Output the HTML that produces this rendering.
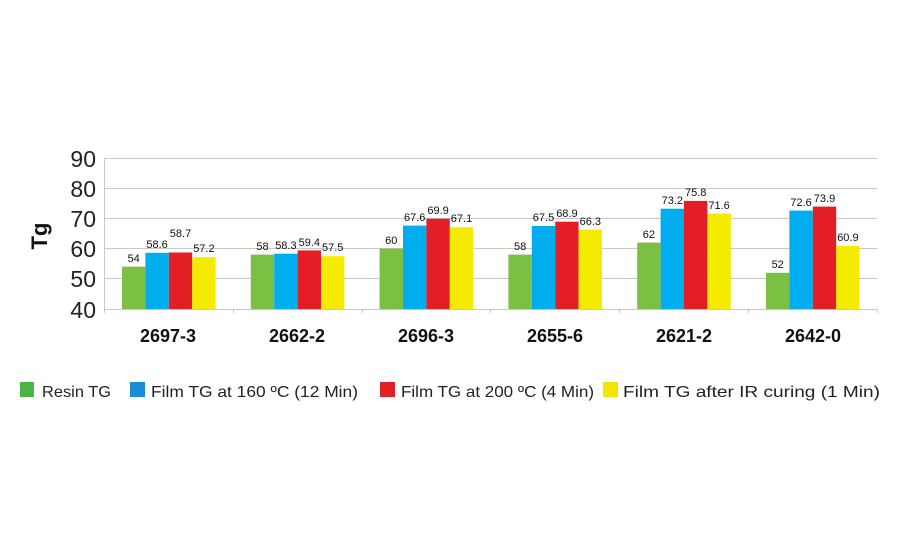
<!DOCTYPE html><html><head><style>body{margin:0;background:#fff}svg{display:block}</style></head><body>
<svg width="900" height="550" xmlns="http://www.w3.org/2000/svg" font-family="Liberation Sans, sans-serif">
<g stroke="#c8c8c8" stroke-width="1">
<line x1="104" y1="158.5" x2="877" y2="158.5"/><line x1="104" y1="188.5" x2="877" y2="188.5"/><line x1="104" y1="218.5" x2="877" y2="218.5"/><line x1="104" y1="248.5" x2="877" y2="248.5"/><line x1="104" y1="278.5" x2="877" y2="278.5"/><line x1="104" y1="309.5" x2="877" y2="309.5"/>
<line x1="104.5" y1="158" x2="104.5" y2="313"/>
<line x1="233.5" y1="309" x2="233.5" y2="313"/><line x1="362.5" y1="309" x2="362.5" y2="313"/><line x1="490.5" y1="309" x2="490.5" y2="313"/><line x1="619.5" y1="309" x2="619.5" y2="313"/><line x1="748.5" y1="309" x2="748.5" y2="313"/><line x1="877.5" y1="309" x2="877.5" y2="313"/>
</g>
<g font-size="23" fill="#222" text-anchor="end">
<text x="96" y="167">90</text><text x="96" y="197">80</text><text x="96" y="227">70</text><text x="96" y="257">60</text><text x="96" y="287">50</text><text x="96" y="318">40</text>
</g>
<text transform="translate(47,236) rotate(-90)" font-size="22" font-weight="bold" text-anchor="middle" fill="#111">Tg</text>
<g>
<rect x="122" y="266.7" width="23.4" height="42.3" fill="#7bbf43"/><rect x="145.4" y="252.8" width="23.4" height="56.2" fill="#00aeef"/><rect x="168.8" y="252.5" width="23.4" height="56.5" fill="#e31e24"/><rect x="192.2" y="257.1" width="23.4" height="51.9" fill="#f5eb00"/>
<rect x="250.8" y="254.6" width="23.4" height="54.4" fill="#7bbf43"/><rect x="274.2" y="253.7" width="23.4" height="55.3" fill="#00aeef"/><rect x="297.6" y="250.4" width="23.4" height="58.6" fill="#e31e24"/><rect x="321" y="256.2" width="23.4" height="52.8" fill="#f5eb00"/>
<rect x="379.6" y="248.6" width="23.4" height="60.4" fill="#7bbf43"/><rect x="403" y="225.6" width="23.4" height="83.4" fill="#00aeef"/><rect x="426.4" y="218.7" width="23.4" height="90.3" fill="#e31e24"/><rect x="449.8" y="227.2" width="23.4" height="81.8" fill="#f5eb00"/>
<rect x="508.4" y="254.6" width="23.4" height="54.4" fill="#7bbf43"/><rect x="531.8" y="226" width="23.4" height="83" fill="#00aeef"/><rect x="555.2" y="221.7" width="23.4" height="87.3" fill="#e31e24"/><rect x="578.6" y="229.6" width="23.4" height="79.4" fill="#f5eb00"/>
<rect x="637.2" y="242.6" width="23.4" height="66.4" fill="#7bbf43"/><rect x="660.6" y="208.7" width="23.4" height="100.3" fill="#00aeef"/><rect x="684" y="200.9" width="23.4" height="108.1" fill="#e31e24"/><rect x="707.4" y="213.6" width="23.4" height="95.4" fill="#f5eb00"/>
<rect x="766" y="272.8" width="23.4" height="36.2" fill="#7bbf43"/><rect x="789.4" y="210.6" width="23.4" height="98.4" fill="#00aeef"/><rect x="812.8" y="206.6" width="23.4" height="102.4" fill="#e31e24"/><rect x="836.2" y="245.9" width="23.4" height="63.1" fill="#f5eb00"/>
</g>
<g font-size="11" fill="#111" text-anchor="middle">
<text x="133.7" y="262">54</text><text x="157.1" y="248">58.6</text><text x="180.5" y="237">58.7</text><text x="203.9" y="252">57.2</text>
<text x="262.5" y="250">58</text><text x="285.9" y="249">58.3</text><text x="309.3" y="246">59.4</text><text x="332.7" y="251">57.5</text>
<text x="391.3" y="244">60</text><text x="414.7" y="221">67.6</text><text x="438.1" y="214">69.9</text><text x="461.5" y="222">67.1</text>
<text x="520.1" y="250">58</text><text x="543.5" y="221">67.5</text><text x="566.9" y="217">68.9</text><text x="590.3" y="225">66.3</text>
<text x="648.9" y="238">62</text><text x="672.3" y="204">73.2</text><text x="695.7" y="196">75.8</text><text x="719.1" y="209">71.6</text>
<text x="777.7" y="268">52</text><text x="801.1" y="206">72.6</text><text x="824.5" y="202">73.9</text><text x="847.9" y="241">60.9</text>
</g>
<g font-size="18" font-weight="bold" fill="#111" text-anchor="middle">
<text x="168" y="342">2697-3</text><text x="297" y="342">2662-2</text><text x="426" y="342">2696-3</text><text x="555" y="342">2655-6</text><text x="684" y="342">2621-2</text><text x="813" y="342">2642-0</text>
</g>
<g font-size="16" fill="#222">
<rect x="20" y="382" width="14" height="15" fill="#4bb543"/><text x="42" y="397" textLength="69" lengthAdjust="spacingAndGlyphs">Resin TG</text>
<rect x="130" y="382" width="15" height="15" fill="#1b8ed6"/><text x="151" y="397" textLength="207" lengthAdjust="spacingAndGlyphs">Film TG at 160 ºC (12 Min)</text>
<rect x="380" y="382" width="15" height="15" fill="#e31e24"/><text x="401" y="397" textLength="193" lengthAdjust="spacingAndGlyphs">Film TG at 200 ºC (4 Min)</text>
<rect x="603" y="382" width="15" height="15" fill="#f2e600"/><text x="623" y="397" textLength="257" lengthAdjust="spacingAndGlyphs">Film TG after IR curing (1 Min)</text>
</g>
</svg></body></html>
